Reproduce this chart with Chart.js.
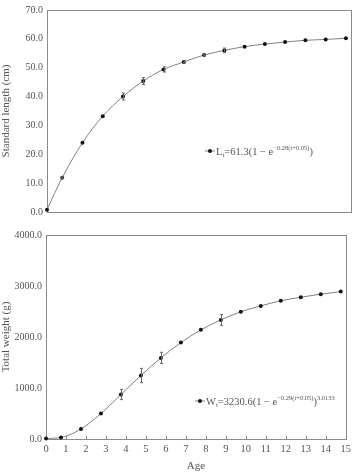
<!DOCTYPE html>
<html>
<head>
<meta charset="utf-8">
<script src="https://cdn.jsdelivr.net/npm/chart.js@4.4.1/dist/chart.umd.min.js"></script>
<style>
  html, body { margin: 0; padding: 0; background: #fff; }
  #wrap { position: relative; width: 355px; height: 475px; }
  canvas { position: absolute; left: 0; }
  #top { top: 0; }
  #bottom { top: 222px; }
</style>
</head>
<body>
<div id="wrap">
  <canvas id="top" width="355" height="222"></canvas>
  <canvas id="bottom" width="355" height="253"></canvas>
</div>
<script>
// ── Données ─────────────────────────────────────────────────────────
const AGES       = [0, 0.75, 1.75, 2.75, 3.75, 4.75, 5.75, 6.75, 7.75, 8.75, 9.75, 10.75, 11.75, 12.75, 13.75, 14.75];
const LENGTH     = [0.8, 11.9, 24.0, 33.2, 40.0, 45.4, 49.4, 52.0, 54.4, 56.0, 57.3, 58.2, 58.9, 59.5, 59.8, 60.2];
const LENGTH_ERR = [0, 0.3, 0, 0, 1.2, 1.2, 0.9, 0.3, 0.3, 0.8, 0, 0, 0, 0, 0, 0];
const WEIGHT     = [10, 30, 196, 500, 872, 1245, 1590, 1890, 2140, 2335, 2495, 2610, 2710, 2780, 2840, 2890];
const WEIGHT_ERR = [0, 0, 0, 0, 100, 140, 110, 0, 0, 105, 0, 0, 0, 0, 0, 0];
const X_TICKS    = [0, 1, 2, 3, 4, 5, 6, 7, 8, 9, 10, 11, 12, 13, 14, 15];

const FONT   = "'Liberation Serif', 'DejaVu Serif', serif";
const TEXT   = "#555";
const AXIS   = "#8a8a8a";
const LINE   = "#808080";

Chart.defaults.font.family = FONT;
Chart.defaults.color = TEXT;

// ── Plugins ─────────────────────────────────────────────────────────

const framePlugin = {
  id: "frame",
  beforeDatasetsDraw(chart, args, opts) {
    const { ctx, chartArea: a } = chart;
    ctx.save();
    ctx.strokeStyle = AXIS;
    ctx.lineWidth = 1;
    ctx.strokeRect(Math.round(a.left) + 0.5, Math.round(a.top) + 0.5,
                   Math.round(a.right - a.left), Math.round(a.bottom - a.top));
    // petites graduations internes sur l'axe des x
    if (opts.xTicks) {
      const xs = chart.scales.x;
      ctx.beginPath();
      for (const v of X_TICKS) {
        const px = Math.round(xs.getPixelForValue(v)) + 0.5;
        ctx.moveTo(px, a.bottom);
        ctx.lineTo(px, a.bottom - 3);
      }
      ctx.stroke();
    }
    ctx.restore();
  },
};

const errorBarPlugin = {
  id: "errorBars",
  afterDatasetsDraw(chart, args, opts) {
    const { ctx } = chart;
    const xs = chart.scales.x, ys = chart.scales.y;
    const data = chart.data.datasets[0].data;
    ctx.save();
    ctx.strokeStyle = "#666";
    ctx.lineWidth = 1;
    data.forEach((p, i) => {
      const e = opts.errors[i];
      if (!e) return;
      const px = Math.round(xs.getPixelForValue(p.x)) + 0.5;
      const y1 = ys.getPixelForValue(p.y + e);
      const y2 = ys.getPixelForValue(p.y - e);
      ctx.beginPath();
      ctx.moveTo(px, y1); ctx.lineTo(px, y2);
      ctx.moveTo(px - 1.5, y1); ctx.lineTo(px + 1.5, y1);
      ctx.moveTo(px - 1.5, y2); ctx.lineTo(px + 1.5, y2);
      ctx.stroke();
    });
    ctx.restore();
  },
};

const formulaPlugin = {
  id: "formula",
  afterDraw(chart, args, opts) {
    const { ctx } = chart;
    ctx.save();
    // marqueur
    ctx.strokeStyle = LINE;
    ctx.lineWidth = 1;
    ctx.beginPath();
    ctx.moveTo(opts.mx - 5, opts.y); ctx.lineTo(opts.mx + 5, opts.y);
    ctx.stroke();
    ctx.fillStyle = "#111";
    ctx.beginPath();
    ctx.arc(opts.mx, opts.y, 2, 0, Math.PI * 2);
    ctx.fill();
    // texte
    ctx.fillStyle = TEXT;
    ctx.textBaseline = "alphabetic";
    let x = opts.x;
    const base = opts.y + 3.5;
    for (const [txt, kind] of opts.parts) {
      let size = 10.5, dy = 0;
      if (kind === "sub") { size = 7; dy = 2; }
      if (kind === "sup") { size = 6.5; dy = -5; }
      ctx.font = `${size}px ${FONT}`;
      ctx.fillText(txt, x, base + dy);
      x += ctx.measureText(txt).width;
    }
    ctx.restore();
  },
};

// ── Construction ────────────────────────────────────────────────────

function points(ys) {
  return AGES.map((a, i) => ({ x: a, y: ys[i] }));
}

function makeChart(id, cfg) {
  return new Chart(document.getElementById(id), {
    type: "line",
    data: {
      datasets: [{
        data: points(cfg.values),
        borderColor: LINE,
        borderWidth: 1,
        pointRadius: 2,
        pointBackgroundColor: "#111",
        pointBorderWidth: 0,
        cubicInterpolationMode: "monotone",
        clip: false,
      }],
    },
    options: {
      responsive: false,
      animation: false,
      devicePixelRatio: 1,
      layout: { padding: cfg.padding },
      plugins: {
        legend: { display: false },
        tooltip: { enabled: false },
        frame: { xTicks: cfg.showX },
        errorBars: { errors: cfg.errors },
        formula: cfg.formula,
      },
      scales: {
        x: {
          type: "linear",
          min: 0, max: 15,
          grid: { display: false, drawTicks: false },
          border: { display: false },
          ticks: {
            display: cfg.showX,
            stepSize: 1,
            padding: 4,
            font: { size: 10.5 },
            color: TEXT,
          },
          title: {
            display: cfg.showX,
            text: "Age",
            font: { size: 11 },
            color: TEXT,
            padding: { top: 0, bottom: 2 },
          },
          afterFit: (s) => { s.height = cfg.xHeight; },
        },
        y: {
          min: 0, max: cfg.max,
          grid: { display: false, drawTicks: false },
          border: { display: false },
          ticks: {
            stepSize: cfg.step,
            padding: 4,
            font: { size: 10 },
            color: TEXT,
            callback: (v) => v.toFixed(1),
          },
          title: {
            display: true,
            text: cfg.yTitle,
            font: { size: 11 },
            color: TEXT,
            padding: { top: 0, bottom: 0 },
          },
          afterFit: (s) => { s.width = cfg.yWidth; },
        },
      },
    },
    plugins: [framePlugin, errorBarPlugin, formulaPlugin],
  });
}

makeChart("top", {
  values: LENGTH,
  errors: LENGTH_ERR,
  max: 70, step: 10,
  yTitle: "Standard length (cm)",
  showX: false,
  xHeight: 0,
  yWidth: 47,
  padding: { top: 9, right: 4, bottom: 10, left: 0 },
  formula: {
    mx: 210, x: 216, y: 151,
    parts: [["L", "n"], ["t", "sub"], ["=61.3(1 \u2212 e", "n"], ["\u22120.28(t+0.05)", "sup"], [")", "n"]],
  },
});

makeChart("bottom", {
  values: WEIGHT,
  errors: WEIGHT_ERR,
  max: 4000, step: 1000,
  yTitle: "Total weight (g)",
  showX: true,
  xHeight: 36,
  yWidth: 46,
  padding: { top: 13, right: 3, bottom: 0, left: 0 },
  formula: {
    mx: 200, x: 206, y: 179,
    parts: [["W", "n"], ["t", "sub"], ["=3230.6(1 \u2212 e", "n"], ["\u22120.29(t+0.05)", "sup"], [")", "n"], ["3.0133", "sup"]],
  },
});
</script>
</body>
</html>
